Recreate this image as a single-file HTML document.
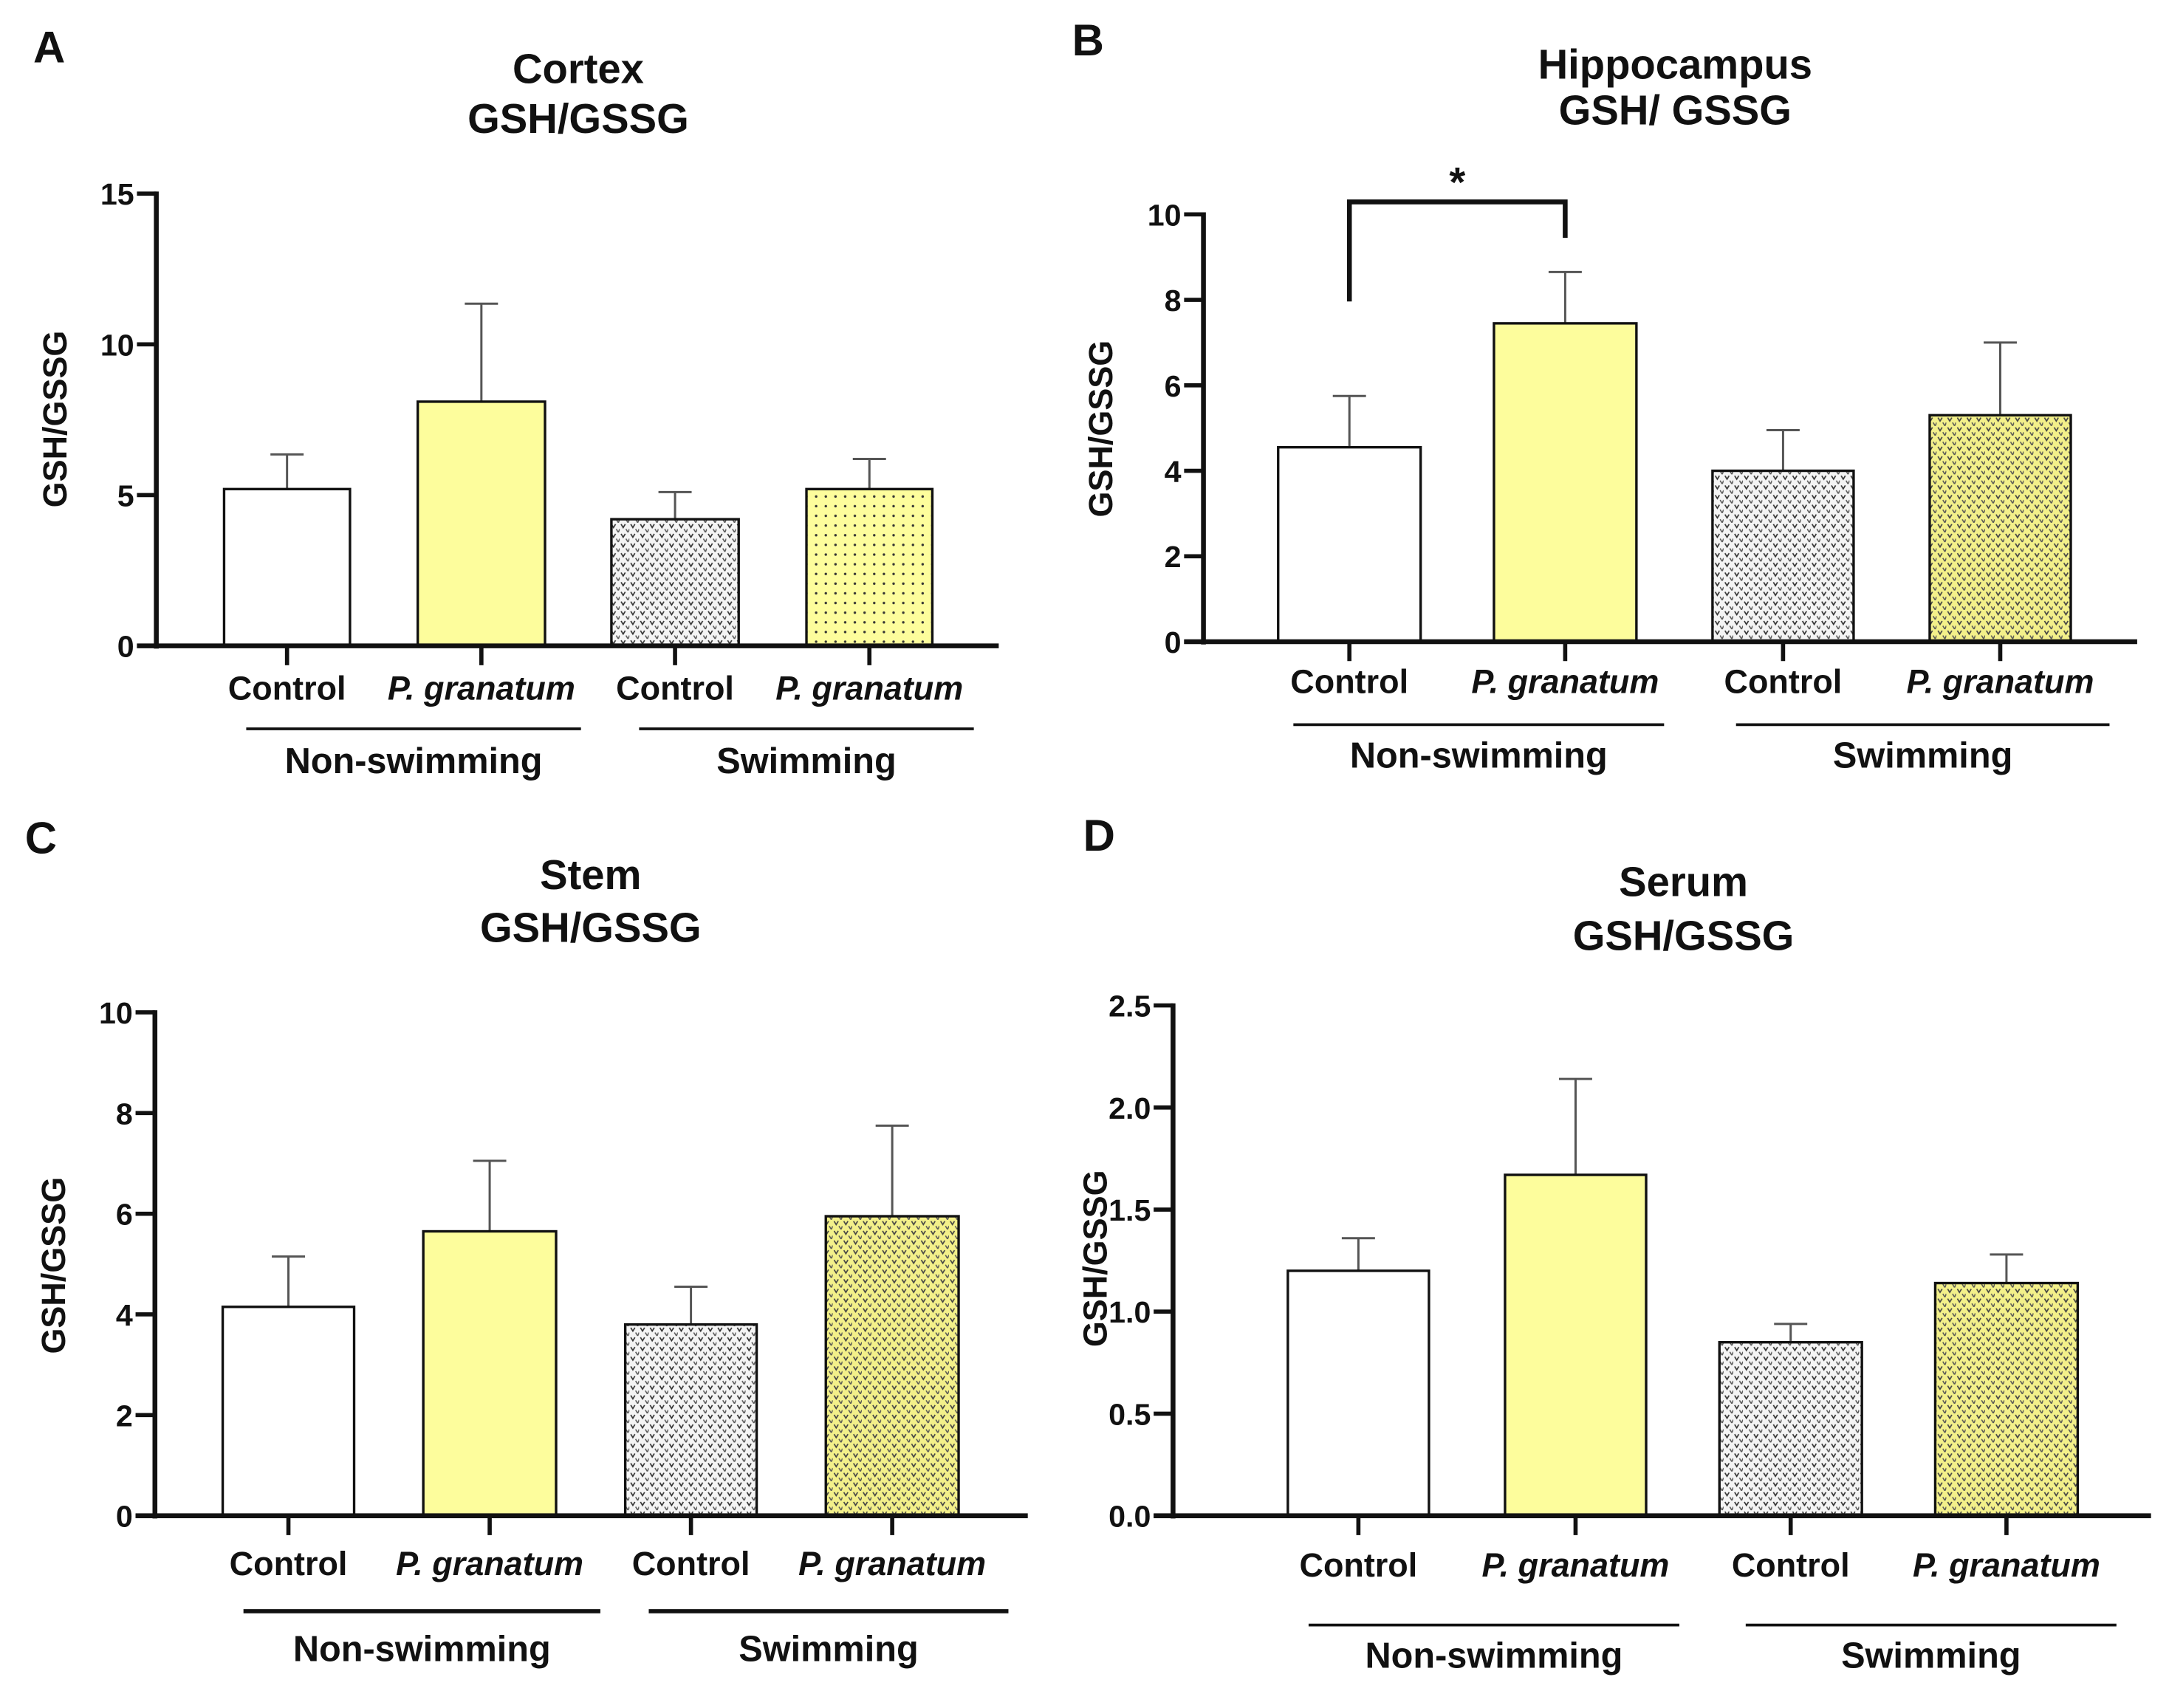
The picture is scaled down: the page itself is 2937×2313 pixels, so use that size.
<!DOCTYPE html>
<html><head><meta charset="utf-8"><style>
html,body{margin:0;padding:0;background:#fff}
svg{display:block}
text{font-family:"Liberation Sans",Arial,sans-serif;font-weight:bold;fill:#111}
</style></head><body>
<svg id="fig" width="2937" height="2313" viewBox="0 0 1568 1235" preserveAspectRatio="none" xmlns="http://www.w3.org/2000/svg">
<defs>
<pattern id="pGray" width="7" height="7" patternUnits="userSpaceOnUse">
<rect width="7" height="7" fill="#f4f4f4"/>
<path d="M1 1 L2.5 3.5 L4 1" stroke="#333" stroke-width="0.9" fill="none"/>
<path d="M4.5 4.5 L6 7 L7 4.5" stroke="#555" stroke-width="0.8" fill="none"/>
</pattern>
<pattern id="pYellowDots" width="7" height="7" patternUnits="userSpaceOnUse">
<rect width="7" height="7" fill="#fdfd9c"/>
<circle cx="2" cy="2" r="0.9" fill="#333"/>
</pattern>
<pattern id="pYellowV" width="7" height="7" patternUnits="userSpaceOnUse">
<rect width="7" height="7" fill="#f3f08a"/>
<path d="M1 1 L2.5 3.5 L4 1" stroke="#444" stroke-width="0.9" fill="none"/>
<path d="M4.5 4.5 L6 7 L7 4.5" stroke="#555" stroke-width="0.8" fill="none"/>
</pattern>
</defs>
<g id="root"></g>
</svg>
<script>
// Panel A: Cortex
const aValues = [5.2, 8.1, 4.2, 5.2];
const aErrors = [1.15, 3.25, 0.9, 1.0];
const aTicks = [0, 5, 10, 15];
// Panel B: Hippocampus
const bValues = [4.55, 7.45, 4.0, 5.3];
const bErrors = [1.2, 1.2, 0.95, 1.7];
const bTicks = [0, 2, 4, 6, 8, 10];
// Panel C: Stem
const cValues = [4.15, 5.65, 3.8, 5.95];
const cErrors = [1.0, 1.4, 0.75, 1.8];
const cTicks = [0, 2, 4, 6, 8, 10];
// Panel D: Serum
const dValues = [1.2, 1.67, 0.85, 1.14];
const dErrors = [0.16, 0.47, 0.09, 0.14];
const dTicks = ["0.0", "0.5", "1.0", "1.5", "2.0", "2.5"];
const categories = ["Control", "P. granatum", "Control", "P. granatum"];
const groups = ["Non-swimming", "Swimming"];

const NS = "http://www.w3.org/2000/svg";
const root = document.getElementById("root");
function el(tag, attrs, parent, txt) {
  const e = document.createElementNS(NS, tag);
  for (const k in attrs) e.setAttribute(k, attrs[k]);
  if (txt !== undefined) e.textContent = txt;
  (parent || root).appendChild(e);
  return e;
}
const fills = ["#ffffff", "#fdfd9c", "url(#pGray)", null];

const panels = [
  {id:"a", letter:"A", lx:24, ly:45, title:["Cortex","GSH/GSSG"], tx:418, ty:[60,96], ax:113, top:140, zero:467, right:722,
   bars:[[162,253],[302,394],[442,534],[583,674]], values:aValues, errors:aErrors, ticks:aTicks, max:15,
   catY:506, lineY:527, lines:[[178,420],[462,704]], grpY:559, ytx:48, yty:303, yf:"url(#pYellowDots)", thick:2},
  {id:"b", letter:"B", lx:775, ly:40, title:["Hippocampus","GSH/ GSSG"], tx:1211, ty:[57,90], ax:870, top:155, zero:464, right:1545,
   bars:[[924,1027],[1080,1183],[1238,1340],[1395,1497]], values:bValues, errors:bErrors, ticks:bTicks, max:10,
   catY:501, lineY:524, lines:[[935,1203],[1255,1525]], grpY:555, ytx:804, yty:310, yf:"url(#pYellowV)", thick:2},
  {id:"c", letter:"C", lx:18, ly:617, title:["Stem","GSH/GSSG"], tx:427, ty:[643,681], ax:112, top:732, zero:1096, right:743,
   bars:[[161,256],[306,402],[452,547],[597,693]], values:cValues, errors:cErrors, ticks:cTicks, max:10,
   catY:1139, lineY:1165, lines:[[176,434],[469,729]], grpY:1201, ytx:47, yty:915, yf:"url(#pYellowV)", thick:3},
  {id:"d", letter:"D", lx:783, ly:615, title:["Serum","GSH/GSSG"], tx:1217, ty:[648,687], ax:848, top:727, zero:1096, right:1555,
   bars:[[931,1033],[1088,1190],[1243,1346],[1399,1502]], values:dValues, errors:dErrors, ticks:dTicks, max:2.5,
   catY:1140, lineY:1175, lines:[[946,1214],[1262,1530]], grpY:1206, ytx:800, yty:910, yf:"url(#pYellowV)", thick:2}
];

panels.forEach(p => {
  const g = el("g", {});
  
  
  const y = v => p.zero - (v / p.max) * (p.zero - p.top);
  let t = el("text", {x:p.lx, y:p.ly, "font-size":32}, g, p.letter);
  
  
  p.title.forEach((s, i) => {
    const tt = el("text", {x:p.tx, y:p.ty[i], "font-size":30, "text-anchor":"middle"}, g, s);
    
    
  });
  const yt = el("text", {x:p.ytx, y:p.yty, "font-size":24, "text-anchor":"middle", transform:`rotate(-90 ${p.ytx} ${p.yty})`}, g, "GSH/GSSG");
  
  
  p.values.forEach((v, i) => {
    const [x0, x1] = p.bars[i];
    const cx = (x0 + x1) / 2;
    const ey = y(v + p.errors[i]);
    const el1 = el("line", {x1:cx, x2:cx, y1:y(v), y2:ey, stroke:"#555", "stroke-width":1.6}, g);
    
    
    const el2 = el("line", {x1:cx-12, x2:cx+12, y1:ey, y2:ey, stroke:"#555", "stroke-width":1.6}, g);
    
    
    const r = el("rect", {x:x0, y:y(v), width:x1-x0, height:p.zero-y(v), fill: i===3 ? p.yf : fills[i], stroke:"#111", "stroke-width":1.8}, g);
    
    
    const tk = el("line", {x1:cx, x2:cx, y1:p.zero, y2:p.zero+14, stroke:"#111", "stroke-width":3}, g);
    
    
    const lb = el("text", {x:cx, y:p.catY, "font-size":24, "text-anchor":"middle", "font-style": i%2 ? "italic" : "normal"}, g, categories[i]);
    
    
  });
  const ya = el("line", {x1:p.ax, x2:p.ax, y1:p.top-1.5, y2:p.zero+2, stroke:"#111", "stroke-width":3.5}, g);
  
  
  const xa = el("line", {x1:p.ax-14, x2:p.right, y1:p.zero, y2:p.zero, stroke:"#111", "stroke-width":3.5}, g);
  
  
  p.ticks.forEach(tv => {
    const yy = y(parseFloat(tv));
    const tl = el("line", {x1:p.ax-14, x2:p.ax, y1:yy, y2:yy, stroke:"#111", "stroke-width":3}, g);
    
    
    const tx = el("text", {x:p.ax-16, y:yy+8, "font-size":22, "text-anchor":"end"}, g, String(tv));
    
    
  });
  p.lines.forEach((l, i) => {
    const gl = el("line", {x1:l[0], x2:l[1], y1:p.lineY, y2:p.lineY, stroke:"#111", "stroke-width":p.thick}, g);
    
    
    const gt = el("text", {x:(l[0]+l[1])/2, y:p.grpY, "font-size":26, "text-anchor":"middle"}, g, groups[i]);
    
    
  });
  if (p.id === "b") {
    const c0 = (p.bars[0][0]+p.bars[0][1])/2, c1 = (p.bars[1][0]+p.bars[1][1])/2;
    const br = el("path", {d:`M${c0} 218 V146 H${c1} V172`, stroke:"#111", "stroke-width":3.5, fill:"none"}, g);
    
    
    const st = el("text", {x:(c0+c1)/2, y:142, "font-size":30, "text-anchor":"middle"}, g, "*");
    
    
  }
});
</script>
</body></html>
